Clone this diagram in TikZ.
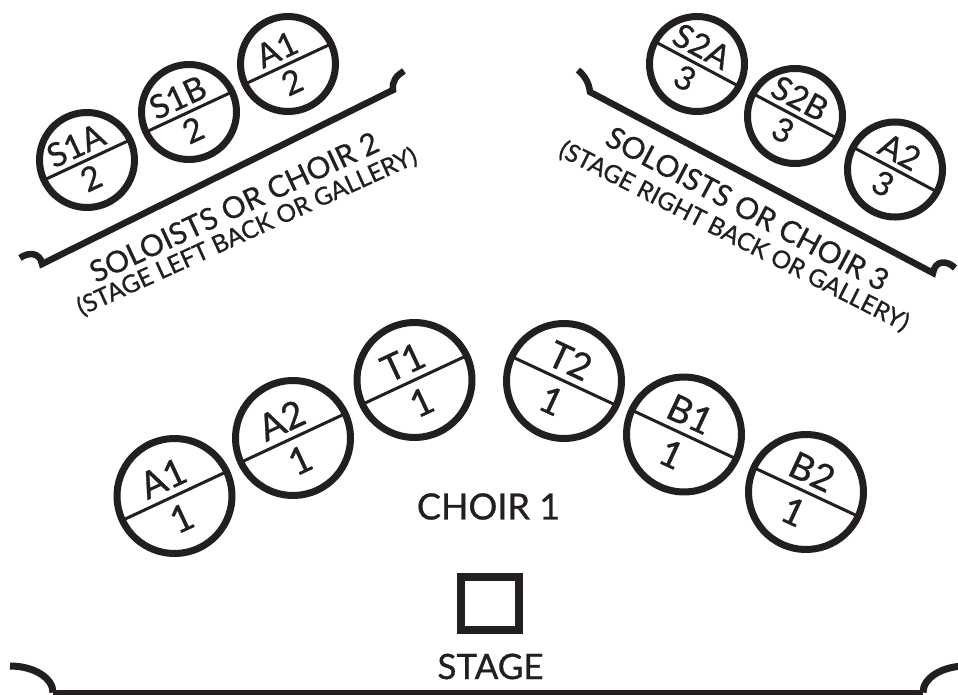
\documentclass[tikz,border=0pt]{standalone}
\usepackage{fontspec}
\setmainfont{Lato}[FakeBold=0.8]
\usetikzlibrary{calc}
\definecolor{ink}{RGB}{35,31,32}
\tikzset{
  seatring/.style={circle,draw=ink,line width=7pt,inner sep=0pt,outer sep=0pt},
  divider/.style={draw=ink,line width=3pt},
  biglbl/.style={inner sep=0pt,text=ink,font=\fontsize{37}{37}\selectfont},
  smalllbl/.style={inner sep=0pt,text=ink,font=\fontsize{33}{33}\selectfont},
  bracket/.style={draw=ink,line width=6.5pt,line join=miter},
  headline/.style={inner sep=0pt,text=ink,font=\fontsize{30}{30}\selectfont},
  subline/.style={inner sep=0pt,text=ink,font=\fontsize{24.5}{24.5}\selectfont},
  bigtext/.style={inner sep=0pt,text=ink,font=\fontsize{36}{36}\selectfont},
}
\newcommand\bigseat[6]{%
  \begin{scope}[shift={(#2,#3)},rotate=#4,transform shape]
    \node[seatring,minimum size=115pt] (#1) at (0,0) {};
    \draw[divider] (#1.west) -- (#1.east);
    \node[biglbl] (#1-t) at (-3,21) {#5};
    \node[biglbl] (#1-b) at (-3,-23) {#6};
  \end{scope}}
\newcommand\smallseat[6]{%
  \begin{scope}[shift={(#2,#3)},rotate=#4,transform shape]
    \node[seatring,minimum size=95pt] (#1) at (0,0) {};
    \draw[divider] (#1.west) -- (#1.east);
    \node[smalllbl] (#1-t) at (-4,18) {#5};
    \node[smalllbl] (#1-b) at (-4,-18) {#6};
  \end{scope}}
\begin{document}
\begin{tikzpicture}[x=1pt,y=1pt]
\useasboundingbox[fill=white] (0,0) rectangle (958,694);

% Choir 1
\bigseat{ca1}{174.5}{198}{25}{A1}{1}
\bigseat{ca2}{293}{256}{25}{A2}{1}
\bigseat{ct1}{414.5}{314}{25}{T1}{1}
\bigseat{ct2}{564}{313}{-25}{T2}{1}
\bigseat{cb1}{684}{259.5}{-25}{B1}{1}
\bigseat{cb2}{806}{202}{-25}{B2}{1}

% Choir 2
\smallseat{s1a}{87}{534}{25}{S1A}{2}
\smallseat{s1b}{189}{582}{25}{S1B}{2}
\smallseat{a1b}{288}{630}{25}{A1}{2}

% Choir 3
\smallseat{s2a}{697}{630}{-28}{S2A}{3}
\smallseat{s2b}{795}{578}{-28}{S2B}{3}
\smallseat{a2c}{895}{524.5}{-28}{A2}{3}

% brackets
\coordinate (b2l) at (20,436);
\coordinate (b2a) at (42,430);
\coordinate (b2b) at (393,604);
\coordinate (b2r) at (404,623);
\draw[bracket] (b2l) .. controls (28,442) and (40,442) .. (b2a) -- (b2b)
  .. controls (392,613) and (396,618) .. (b2r);
\coordinate (b3l) at (578,624);
\coordinate (b3a) at (590,602);
\coordinate (b3b) at (933,421);
\coordinate (b3r) at (955,426);
\draw[bracket] (b3l) .. controls (585,618) and (589,611) .. (b3a) -- (b3b)
  .. controls (935,434) and (947,434) .. (b3r);

% labels
\node[headline,rotate=25] (h2) at (234,487) {SOLOISTS OR CHOIR 2};
\node[subline,rotate=24.5] (g2) at (247,462) {(STAGE LEFT BACK OR GALLERY)};
\node[headline,rotate=-28] (h3) at (747.5,485.5) {SOLOISTS OR CHOIR 3};
\node[subline,rotate=-27] (g3) at (734,457.5) {(STAGE RIGHT BACK OR GALLERY)};
\node[bigtext] (c1) at (488.5,187.5) {CHOIR 1};

% stage
\node[draw=ink,line width=8pt,minimum width=58pt,minimum height=53pt,inner sep=0pt,outer sep=0pt] (box) at (490,90.5) {};
\node[bigtext,font=\fontsize{35}{35}\selectfont] (stg) at (490.5,27.5) {STAGE};
\coordinate (sl) at (10,28);
\coordinate (sla) at (53,1.5);
\coordinate (srb) at (923,1.5);
\draw[draw=ink,line width=7pt] (sl) arc[start angle=90,end angle=0,x radius=43,y radius=26.5];
\draw[draw=ink,line width=5pt] (sla) -- (srb);
\draw[draw=ink,line width=7pt] (srb) arc[start angle=180,end angle=90,x radius=43,y radius=26.5];
\end{tikzpicture}
\end{document}
